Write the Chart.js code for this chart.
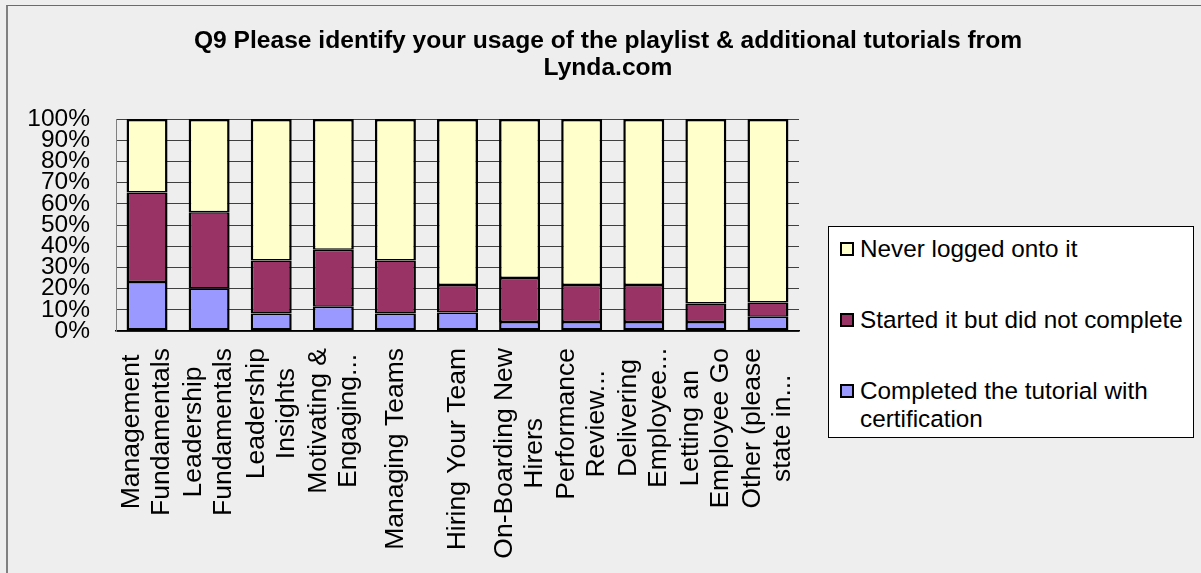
<!DOCTYPE html>
<html>
<head>
<meta charset="utf-8">
<title>Q9 tutorial usage</title>
<script src="https://cdn.jsdelivr.net/npm/chart.js@4/dist/chart.umd.min.js"></script>
<style>
    html, body {
        margin: 0;
        padding: 0;
        background: #eeeeee;
        width: 1201px;
        height: 573px;
        overflow: hidden;
        font-family: "Liberation Sans", Arial, sans-serif;
    }
    #frame {
        position: absolute;
        left: 6px;
        top: 5px;
        right: -10px;
        bottom: -10px;
        border-top: 1px solid #6b6b6b;
        border-left: 2px solid #808080;
    }
    #chart {
        position: absolute;
        left: 0;
        top: 0;
    }
    #legend {
        position: absolute;
        left: 828px;
        top: 226px;
        width: 366px;
        height: 212px;
        background: #ffffff;
        border: 1px solid #000000;
        padding-top: 8px;
        box-sizing: border-box;
    }
    .legend-item {
        position: relative;
        padding-left: 31px;
        padding-right: 4px;
        font-size: 24.3px;
        line-height: 27.5px;
        color: #000;
        margin-bottom: 43.5px;
    }
    .legend-swatch {
        position: absolute;
        left: 11px;
        top: 7px;
        width: 10px;
        height: 10px;
        border: 2px solid #000;
    }
</style>
</head>
<body>
<div id="frame"></div>
<canvas id="chart" width="1201" height="573"></canvas>
<div id="legend"></div>
<script>
// Course names, one array of wrapped lines per bar
const courseLabels = [
    ['Management', 'Fundamentals'],
    ['Leadership', 'Fundamentals'],
    ['Leadership', 'Insights'],
    ['Motivating &', 'Engaging...'],
    ['Managing Teams'],
    ['Hiring Your Team'],
    ['On-Boarding New', 'Hirers'],
    ['Performance', 'Review...'],
    ['Delivering', 'Employee...'],
    ['Letting an', 'Employee Go'],
    ['Other (please', 'state in...'],
];

// Share of respondents (%) per course
const completedPct = [23.1, 20.0, 8.3, 11.5, 8.3, 8.7, 4.2, 4.3, 4.3, 4.3, 6.7];
const startedPct   = [42.3, 36.0, 25.0, 26.9, 25.0, 13.0, 20.8, 17.4, 17.4, 8.7, 6.7];
const neverPct     = [34.6, 44.0, 66.7, 61.6, 66.7, 78.3, 75.0, 78.3, 78.3, 87.0, 86.6];

const yTicks = [0, 10, 20, 30, 40, 50, 60, 70, 80, 90, 100];

const titleLines = [
    'Q9 Please identify your usage of the playlist & additional tutorials from',
    'Lynda.com',
];

const FONT = '"Liberation Sans", Arial, sans-serif';
Chart.defaults.font.family = FONT;
Chart.defaults.color = '#000';

// Excel-style rotated category labels: lines centred in a block whose end sits under the axis
const wrappedTicks = {
    id: 'wrappedTicks',
    afterDraw(chart) {
        const xScale = chart.scales.x;
        const ctx = chart.ctx;
        const lineHeight = 30;
        const gap = 17;
        ctx.save();
        ctx.font = '26.5px ' + FONT;
        ctx.fillStyle = '#000';
        ctx.textAlign = 'center';
        ctx.textBaseline = 'middle';
        courseLabels.forEach((lines, i) => {
            const x = xScale.getPixelForTick(i);
            const blockWidth = Math.max(...lines.map(l => ctx.measureText(l).width));
            const yCenter = xScale.bottom + gap + blockWidth / 2;
            lines.forEach((line, j) => {
                const offset = (j - (lines.length - 1) / 2) * lineHeight;
                ctx.save();
                ctx.translate(x + offset, yCenter);
                ctx.rotate(-Math.PI / 2);
                ctx.fillText(line, 0, 0);
                ctx.restore();
            });
        });
        ctx.restore();
    }
};

const ctx = document.getElementById('chart').getContext('2d');

const chart = new Chart(ctx, {
    type: 'bar',
    data: {
        labels: courseLabels.map(l => l.join(' ')),
        datasets: [
            {
                label: 'Completed the tutorial with certification',
                data: completedPct,
                backgroundColor: '#9999ff',
                borderColor: '#000000',
                borderWidth: { top: 1.5, bottom: 2.5, left: 2.5, right: 2.5 },
                borderSkipped: false,
                inflateAmount: 0,
            },
            {
                label: 'Started it but did not complete',
                data: startedPct,
                backgroundColor: '#993366',
                borderColor: '#000000',
                borderWidth: { top: 1.5, bottom: 1.5, left: 2.5, right: 2.5 },
                borderSkipped: false,
                inflateAmount: 0,
            },
            {
                label: 'Never logged onto it',
                data: neverPct,
                backgroundColor: '#ffffcc',
                borderColor: '#000000',
                borderWidth: { top: 2.5, bottom: 1.5, left: 2.5, right: 2.5 },
                borderSkipped: false,
                inflateAmount: 0,
            },
        ]
    },
    options: {
        responsive: false,
        animation: false,
        categoryPercentage: 1.0,
        barPercentage: 0.66,
        layout: {
            padding: { left: 15, right: 0, top: 0, bottom: 242 }
        },
        plugins: {
            legend: { display: false },
            tooltip: { enabled: false },
            title: {
                display: true,
                text: titleLines,
                color: '#000',
                font: { size: 24.6, weight: 'bold', lineHeight: 1.12 },
                padding: { top: 27, bottom: 37 }
            }
        },
        scales: {
            x: {
                stacked: true,
                grid: { display: false, drawTicks: false },
                border: { display: true, color: '#000', width: 1.5 },
                ticks: { display: false }
            },
            y: {
                stacked: true,
                min: 0,
                max: 100,
                afterFit(scale) {
                    scale.width = 101;
                },
                afterBuildTicks(scale) {
                    scale.ticks = yTicks.map(v => ({ value: v }));
                },
                grid: { color: '#404040', lineWidth: 1, drawTicks: false },
                border: { display: true, color: '#808080', width: 1 },
                ticks: {
                    autoSkip: false,
                    padding: 26,
                    font: { size: 24.5, lineHeight: 1 },
                    callback: v => v + '%'
                }
            },
            // keeps the right-hand side clear for the legend box
            legendSpace: {
                type: 'linear',
                position: 'right',
                display: true,
                grid: { display: false, drawTicks: false },
                border: { display: false },
                ticks: { display: false },
                afterFit(scale) {
                    scale.width = 402;
                }
            }
        }
    },
    plugins: [wrappedTicks]
});

// Legend lists the top segment first, as in the stacked column order
const legendEl = document.getElementById('legend');
chart.data.datasets.slice().reverse().forEach(ds => {
    const item = document.createElement('div');
    item.className = 'legend-item';
    const swatch = document.createElement('span');
    swatch.className = 'legend-swatch';
    swatch.style.background = ds.backgroundColor;
    item.appendChild(swatch);
    item.appendChild(document.createTextNode(ds.label));
    legendEl.appendChild(item);
});
</script>
</body>
</html>
